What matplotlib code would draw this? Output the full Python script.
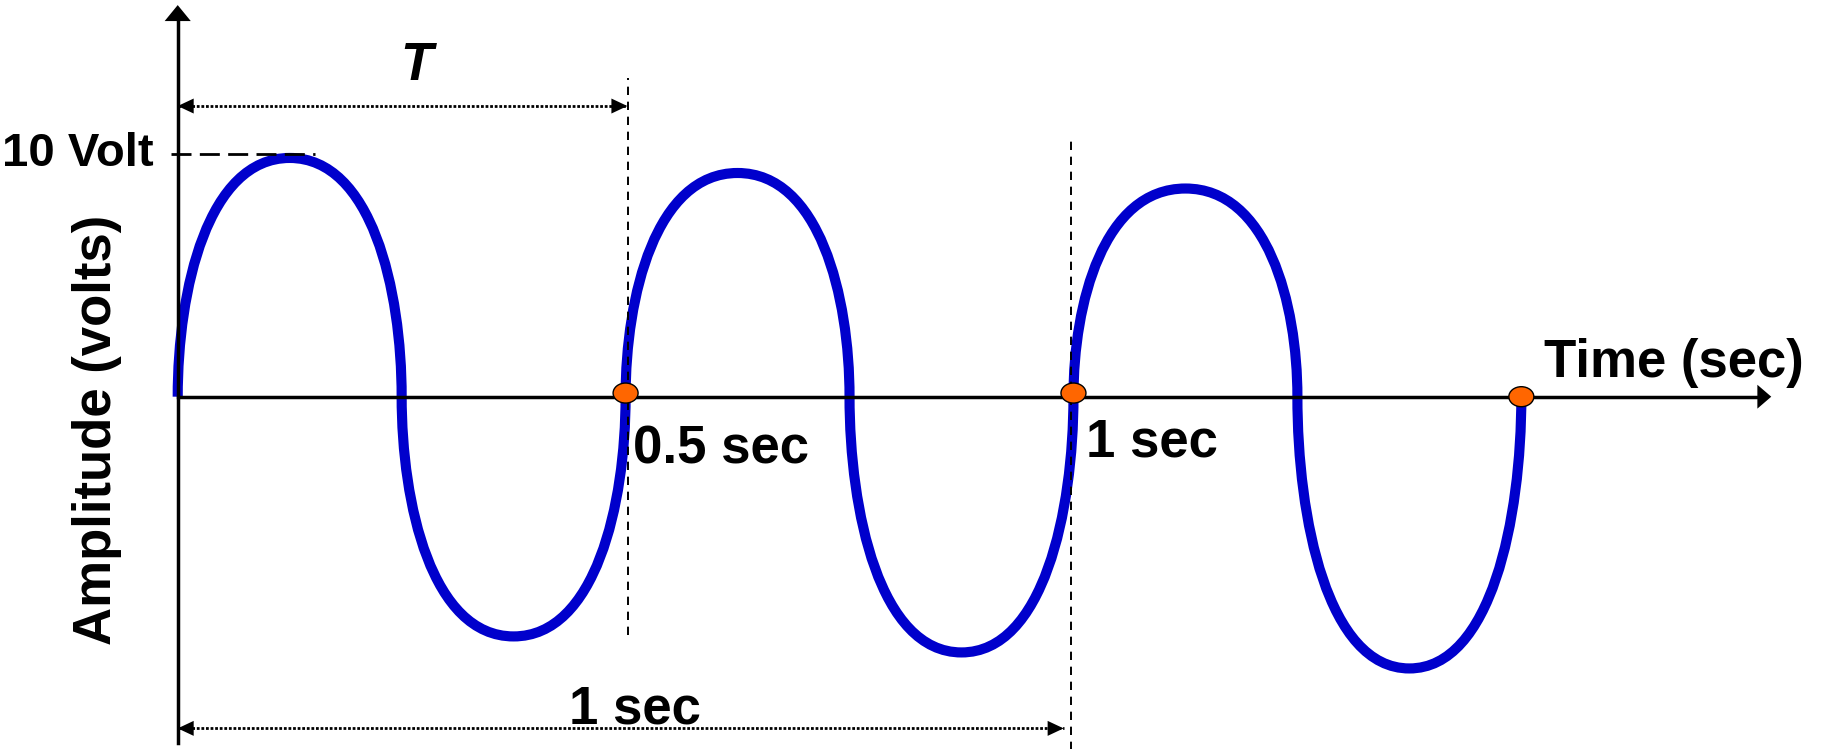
import numpy as np
import matplotlib
matplotlib.use('Agg')
import matplotlib.pyplot as plt
from matplotlib.path import Path
from matplotlib.patches import PathPatch, Ellipse

######################################################################
## Data (time in sec, amplitude in volts)
######################################################################

crossing_times = [0.0, 0.25, 0.5, 0.75, 1.0, 1.25, 1.5]
extreme_times = [0.125, 0.375, 0.625, 0.875, 1.125, 1.375]
extreme_volts = [9.84, -9.88, 9.22, -10.54, 8.58, -11.20]

dot_times = [0.5, 1.0, 1.5]
dot_volts = [0.15, 0.15, 0.0]

guide_times = [0.503, 0.997]        # dashed vertical markers
guide_top = [13.13, 10.70]
guide_bottom = [-9.83, -15.0]

peak_level = 10.0
period_span = [0.0, 0.502]          # "T" dimension
second_span = [0.0, 0.989]          # "1 sec" dimension

######################################################################
## Figure setup
######################################################################

plt.rcParams['font.family'] = ['Liberation Sans', 'DejaVu Sans']
plt.rcParams['lines.scale_dashes'] = False

fig = plt.figure(figsize=(18.25, 7.49), dpi=100)
ax = fig.add_axes([0, 0, 1, 1])
ax.set_xlim(-0.1984, 1.839)
ax.set_ylim(-14.52, 16.35)
ax.axis('off')


def arrow_head(tip, tail, length, half_width):
    ax.annotate('', xy=tip, xytext=tail,
                arrowprops=dict(arrowstyle='-|>,head_length=%g,head_width=%g' % (length, half_width),
                                fc='black', ec='none', lw=0, shrinkA=0, shrinkB=0,
                                mutation_scale=1), zorder=5)


# waveform, one half cycle at a time (bezier lobes)
verts = [(crossing_times[0], 0.0)]
codes = [Path.MOVETO]
for i in range(len(extreme_times)):
    t0, t1 = crossing_times[i], crossing_times[i + 1]
    tp, vp = extreme_times[i], extreme_volts[i]
    verts += [(t0, 0.45 * vp), (t0 + 0.27 * (tp - t0), vp), (tp, vp),
              (t1 - 0.27 * (t1 - tp), vp), (t1, 0.45 * vp), (t1, 0.0)]
    codes += [Path.CURVE4] * 6
ax.add_patch(PathPatch(Path(verts, codes), fill=False, ec='#0000CC', lw=7.3, zorder=2))

# axes
ax.plot([0, 0], [-14.29, 15.6], color='black', lw=2.5, zorder=3)
arrow_head((0, 16.14), (0, 12), 11.5, 9.4)
ax.plot([0, 1.765], [0, 0], color='black', lw=2.5, zorder=3)
arrow_head((1.779, 0), (1.6, 0), 10, 8.6)

# dashed guides
for t, top, bot in zip(guide_times, guide_top, guide_bottom):
    ax.plot([t, t], [bot, top], color='black', lw=1.4, dashes=(6, 4.8), zorder=3)
ax.plot([-0.0075, 0.1533], [peak_level, peak_level], color='black', lw=2, dashes=(14.4, 6), zorder=3)

# dimension lines
for span, y in [(period_span, 11.98), (second_span, -13.67)]:
    ax.plot(span, [y, y], color='black', lw=2, dashes=(2, 1.3), zorder=3)
    arrow_head((span[0], y), (span[1], y), 11.5, 5.4)
    arrow_head((span[1], y), (span[0], y), 11.5, 5.4)

# orange markers
for t, v in zip(dot_times, dot_volts):
    ax.add_patch(Ellipse((t, v), 0.0279, 0.825, fc='#FF6600', ec='black', lw=1, zorder=6))

# labels
ax.text(0.267, 13.05, 'T', fontsize=38, fontweight='bold', fontstyle='italic',
        ha='center', va='baseline')
ax.text(-0.196, 9.50, '10 Volt', fontsize=34, fontweight='bold', ha='left', va='baseline')
ax.text(-0.0748, -1.38, 'Amplitude (volts)', fontsize=38, fontweight='bold', rotation=90,
        rotation_mode='anchor', ha='center', va='baseline')
ax.text(0.5083, -2.74, '0.5 sec', fontsize=38, fontweight='bold', ha='left', va='baseline')
ax.text(1.0141, -2.45, '1 sec', fontsize=38, fontweight='bold', ha='left', va='baseline')
ax.text(0.4369, -13.46, '1 sec', fontsize=38, fontweight='bold', ha='left', va='baseline')
ax.text(1.5254, 0.80, 'Time (sec)', fontsize=38, fontweight='bold', ha='left', va='baseline')

fig.savefig('out.png', dpi=100)
